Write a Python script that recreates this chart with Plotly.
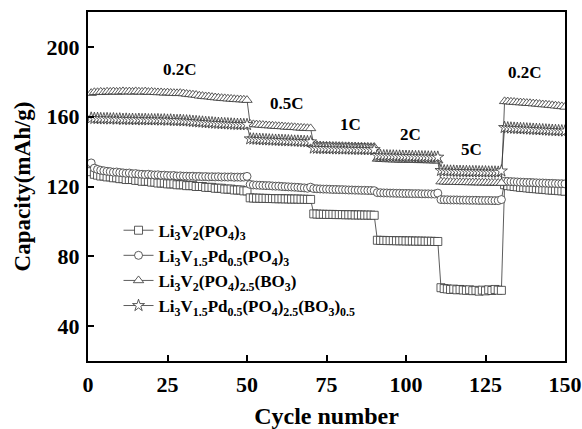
import plotly.graph_objects as go

cycles = list(range(1, 151))

# Li3V2(PO4)3  (squares)
cap_lvp = [
    128.5, 127.0, 126.5, 126.0, 126.0, 125.5, 125.5, 125.0, 125.0, 124.5,
    124.5, 124.0, 124.0, 124.0, 123.5, 123.5, 123.0, 123.0, 123.0, 122.5,
    122.5, 122.0, 122.0, 122.0, 121.5, 121.5, 121.5, 121.0, 121.0, 121.0,
    120.5, 120.5, 120.5, 120.0, 120.0, 120.0, 119.5, 119.5, 119.5, 119.0,
    119.0, 119.0, 118.5, 118.5, 118.5, 118.0, 118.0, 118.0, 117.5, 117.5,
    113.5, 113.4, 113.3, 113.3, 113.2, 113.2, 113.1, 113.1, 113.0, 113.0,
    113.0, 112.9, 112.9, 112.8, 112.8, 112.8, 112.7, 112.7, 112.6, 112.6,
    104.3, 104.2, 104.1, 104.1, 104.0, 104.0, 104.0, 103.9, 103.9, 103.9,
    103.8, 103.8, 103.8, 103.7, 103.7, 103.7, 103.6, 103.6, 103.6, 103.5,
    89.2, 89.1, 89.1, 89.0, 89.0, 89.0, 88.9, 88.9, 88.9, 88.8,
    88.8, 88.8, 88.7, 88.7, 88.7, 88.6, 88.6, 88.6, 88.5, 88.5,
    62.0, 61.5, 61.3, 61.0, 61.2, 60.8, 61.0, 60.7, 60.5, 60.8,
    60.3, 60.5, 60.0, 60.6, 60.2, 60.8, 60.4, 61.0, 60.6, 60.5,
    121.0, 120.5, 120.3, 120.0, 119.8, 119.5, 119.4, 119.2, 119.0, 118.8,
    118.7, 118.5, 118.4, 118.2, 118.0, 117.9, 117.8, 117.6, 117.5, 117.3,
]

# Li3V1.5Pd0.5(PO4)3  (circles)
cap_lvpd = [
    133.5, 130.5, 129.8, 129.3, 129.0, 128.7, 128.5, 128.2, 128.3, 128.0,
    127.8, 127.6, 127.7, 127.3, 127.4, 127.1, 127.0, 126.8, 127.0, 126.7,
    126.6, 126.7, 126.4, 126.5, 126.3, 126.2, 126.3, 126.0, 126.1, 125.9,
    125.9, 125.8, 125.9, 125.7, 125.8, 125.6, 125.7, 125.5, 125.6, 125.5,
    125.6, 125.4, 125.5, 125.4, 125.5, 125.3, 125.4, 125.3, 125.4, 125.8,
    121.2, 120.9, 120.8, 120.7, 120.6, 120.5, 120.5, 120.3, 120.2, 120.2,
    120.0, 119.9, 119.8, 119.7, 119.6, 119.5, 119.3, 119.2, 119.0, 119.6,
    118.8, 118.7, 118.6, 118.5, 118.5, 118.4, 118.3, 118.3, 118.2, 118.2,
    118.1, 118.0, 118.0, 117.9, 117.9, 117.8, 117.8, 117.7, 117.7, 117.6,
    116.5, 116.4, 116.3, 116.3, 116.2, 116.2, 116.1, 116.1, 116.0, 116.0,
    116.0, 115.9, 115.9, 115.9, 115.8, 115.8, 115.8, 115.7, 115.7, 116.2,
    112.5, 112.4, 112.4, 112.3, 112.3, 112.3, 112.2, 112.2, 112.2, 112.1,
    112.1, 112.1, 112.0, 112.0, 112.0, 112.0, 111.9, 111.9, 111.9, 112.5,
    123.0, 122.9, 122.8, 122.7, 122.6, 122.5, 122.4, 122.3, 122.3, 122.2,
    122.1, 122.0, 122.0, 121.9, 121.8, 121.8, 121.7, 121.6, 121.6, 121.5,
]

# Li3V2(PO4)2.5(BO3)  (triangles)
cap_lvpb = [
    173.5, 174.0, 174.0, 174.2, 174.0, 174.3, 174.2, 174.4, 174.2, 174.3,
    174.5, 174.3, 174.4, 174.2, 174.5, 174.3, 174.2, 174.4, 174.1, 174.2,
    174.0, 173.9, 173.9, 173.7, 173.8, 173.6, 173.5, 173.4, 173.5, 173.3,
    173.0, 172.8, 172.6, 172.4, 172.0, 171.8, 171.6, 171.5, 171.2, 171.0,
    170.8, 170.6, 170.5, 170.3, 170.2, 170.0, 169.9, 169.8, 169.7, 169.5,
    155.8, 155.6, 155.5, 155.3, 155.2, 155.0, 154.9, 154.8, 154.6, 154.5,
    154.4, 154.2, 154.1, 154.0, 153.9, 153.7, 153.6, 153.5, 153.4, 153.3,
    143.8, 143.6, 143.5, 143.4, 143.3, 143.3, 143.2, 143.2, 143.1, 143.1,
    143.0, 143.0, 142.9, 142.9, 142.8, 142.8, 142.7, 142.7, 142.6, 142.6,
    135.8, 135.7, 135.6, 135.5, 135.5, 135.4, 135.4, 135.3, 135.3, 135.2,
    135.2, 135.1, 135.1, 135.0, 135.0, 135.0, 134.9, 134.9, 134.8, 134.8,
    122.8, 122.7, 122.6, 122.6, 122.5, 122.5, 122.4, 122.4, 122.4, 122.3,
    122.3, 122.3, 122.2, 122.2, 122.2, 122.1, 122.1, 122.1, 122.0, 122.0,
    168.8, 168.7, 168.5, 168.4, 168.2, 168.1, 168.0, 167.8, 167.7, 167.5,
    167.4, 167.2, 167.0, 166.9, 166.7, 166.5, 166.3, 166.1, 165.9, 165.6,
]

# Li3V1.5Pd0.5(PO4)2.5(BO3)0.5  (stars)
cap_lvpdb = [
    159.2, 159.0, 159.0, 158.9, 158.8, 158.9, 158.7, 158.8, 158.6, 158.7,
    158.5, 158.6, 158.4, 158.5, 158.3, 158.5, 158.3, 158.4, 158.2, 158.3,
    158.2, 158.3, 158.1, 158.2, 158.0, 158.1, 157.9, 157.8, 157.9, 157.7,
    157.6, 157.5, 157.3, 157.2, 157.0, 156.9, 156.7, 156.6, 156.5, 156.3,
    156.2, 156.1, 156.0, 155.9, 155.8, 155.7, 155.6, 155.6, 155.5, 155.5,
    147.3, 147.2, 147.1, 147.0, 146.9, 146.8, 146.7, 146.6, 146.5, 146.5,
    146.4, 146.3, 146.2, 146.1, 146.0, 146.0, 145.9, 145.8, 145.7, 145.6,
    142.0, 141.9, 141.9, 141.8, 141.8, 141.7, 141.7, 141.6, 141.6, 141.5,
    141.5, 141.5, 141.4, 141.4, 141.3, 141.3, 141.3, 141.2, 141.2, 141.1,
    137.8, 137.7, 137.6, 137.6, 137.5, 137.5, 137.4, 137.4, 137.3, 137.3,
    137.2, 137.2, 137.1, 137.1, 137.0, 137.0, 136.9, 136.9, 136.8, 136.8,
    129.2, 129.0, 128.9, 128.8, 128.8, 128.7, 128.7, 128.6, 128.6, 128.5,
    128.5, 128.5, 128.4, 128.4, 128.4, 128.3, 128.3, 128.3, 128.2, 128.9,
    153.8, 153.6, 153.5, 153.4, 153.3, 153.2, 153.1, 153.0, 152.9, 152.8,
    152.7, 152.6, 152.5, 152.4, 152.3, 152.2, 152.1, 152.0, 151.9, 151.8,
]

series_names = [
    "Li<sub>3</sub>V<sub>2</sub>(PO<sub>4</sub>)<sub>3</sub>",
    "Li<sub>3</sub>V<sub>1.5</sub>Pd<sub>0.5</sub>(PO<sub>4</sub>)<sub>3</sub>",
    "Li<sub>3</sub>V<sub>2</sub>(PO<sub>4</sub>)<sub>2.5</sub>(BO<sub>3</sub>)",
    "Li<sub>3</sub>V<sub>1.5</sub>Pd<sub>0.5</sub>(PO<sub>4</sub>)<sub>2.5</sub>(BO<sub>3</sub>)<sub>0.5</sub>",
]
series_values = [cap_lvp, cap_lvpd, cap_lvpb, cap_lvpdb]
series_symbols = ["square", "circle", "triangle-up", "star"]
series_sizes = [8, 8, 9, 9]

rate_labels = ["0.2C", "0.5C", "1C", "2C", "5C", "0.2C"]
rate_label_x = [29, 62.5, 82.5, 101.5, 120.5, 137.5]
rate_label_y = [187, 167.5, 155.5, 150, 141, 185.5]

xticks = [0, 25, 50, 75, 100, 125, 150]
yticks = [40, 80, 120, 160, 200]

FONT = "Liberation Serif"

fig = go.Figure()
for name, vals, sym, sz in zip(series_names, series_values, series_symbols, series_sizes):
    fig.add_trace(go.Scatter(
        x=cycles, y=vals, name=name, mode="lines+markers",
        line=dict(color="#333333", width=0.8),
        marker=dict(symbol=sym, size=sz, color="white",
                    line=dict(color="#333333", width=0.8)),
    ))

for lab, lx, ly in zip(rate_labels, rate_label_x, rate_label_y):
    fig.add_annotation(x=lx, y=ly, text=lab, showarrow=False,
                       font=dict(family=FONT, size=17, color="black", weight="bold"))

axis_common = dict(
    showline=True, linewidth=2, linecolor="black", mirror=True,
    ticks="inside", ticklen=6, tickwidth=1.5, tickcolor="black",
    showgrid=False, zeroline=False, automargin=False,
    tickfont=dict(family=FONT, size=22, color="black", weight="bold"),
)

fig.update_layout(
    width=582, height=429,
    margin=dict(l=88, r=17, t=12, b=68),
    paper_bgcolor="white", plot_bgcolor="white",
    showlegend=True,
    legend=dict(x=0.064, y=0.425, xanchor="left", yanchor="top",
                bgcolor="rgba(0,0,0,0)", borderwidth=0,
                font=dict(family=FONT, size=17, color="black", weight="bold"),
                tracegroupgap=0, itemwidth=30),
    xaxis=dict(range=[0, 150], tickvals=xticks, ticklabelstandoff=3,
               title=dict(text="Cycle number", standoff=20,
                          font=dict(family=FONT, size=24, color="black", weight="bold")),
               **axis_common),
    yaxis=dict(range=[20, 220], tickvals=yticks, ticklabelstandoff=2,
               title=dict(text="Capacity(mAh/g)", standoff=10,
                          font=dict(family=FONT, size=23, color="black", weight="bold")),
               **axis_common),
)

# drop the default 8px page margin so the figure sits at the window origin
fig.write_html("out.html", config={"displayModeBar": False},
               post_script="document.body.style.margin='0';document.documentElement.style.overflow='hidden';")
